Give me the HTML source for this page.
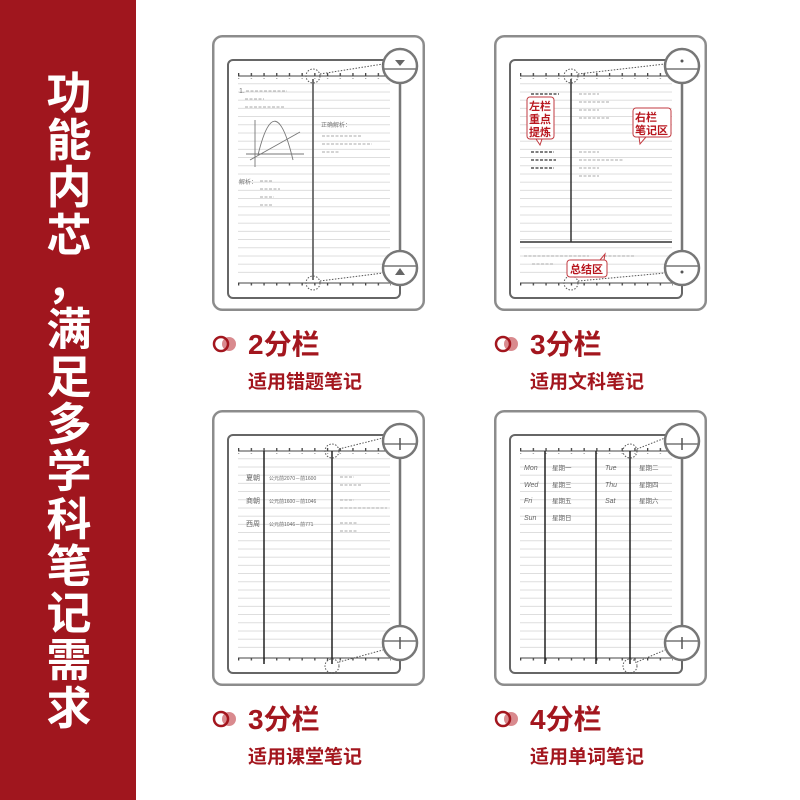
<!DOCTYPE html>
<html><head><meta charset="utf-8"><style>
html,body{margin:0;padding:0;background:#fff}
svg{display:block}
.t{font-family:"Liberation Sans","Noto Sans CJK SC",sans-serif}
</style></head><body>
<svg width="800" height="800" viewBox="0 0 800 800" xmlns="http://www.w3.org/2000/svg">
<defs>
<pattern id="rules" x="0" y="0" width="10" height="8.2" patternUnits="userSpaceOnUse">
<rect x="0" y="7.4" width="10" height="0.8" fill="#d6d6d6"/>
</pattern>
<pattern id="ticks" x="26" y="0" width="12.7" height="6" patternUnits="userSpaceOnUse">
<rect x="0" y="1.5" width="1.3" height="3" fill="#444"/>
</pattern>
<g id="frame">
<rect x="1.25" y="1.25" width="210.5" height="273.5" rx="9" fill="#fff" stroke="#8c8c8c" stroke-width="2.5"/>
<rect x="16" y="25" width="172" height="238" rx="5" fill="#fff" stroke="#666" stroke-width="2"/>
<rect x="26" y="48" width="152" height="196" fill="url(#rules)"/>
<line x1="26" y1="41" x2="178" y2="41" stroke="#444" stroke-width="1"/>
<rect x="26" y="38" width="153" height="6" fill="url(#ticks)"/>
<line x1="26" y1="248" x2="178" y2="248" stroke="#444" stroke-width="1"/>
<rect x="26" y="245" width="153" height="6" fill="url(#ticks)"/>
<line x1="188" y1="48" x2="188" y2="216" stroke="#777" stroke-width="2.5"/>
<circle cx="188" cy="31" r="17" fill="#fff" stroke="#777" stroke-width="2.5"/>
<line x1="171" y1="34" x2="205" y2="34" stroke="#777" stroke-width="1.5"/>
<circle cx="188" cy="233" r="17" fill="#fff" stroke="#777" stroke-width="2.5"/>
<line x1="171" y1="231" x2="205" y2="231" stroke="#777" stroke-width="1.5"/>
</g>
</defs>

<rect x="0" y="0" width="136" height="800" fill="#a0161e"/>
<g class="t" fill="#fff" font-size="45" font-weight="bold" text-anchor="middle">
<text x="69" y="109">功</text>
<text x="69" y="156">能</text>
<text x="69" y="203">内</text>
<text x="69" y="251">芯</text>
<text x="69" y="298">，</text>
<text x="69" y="345">满</text>
<text x="69" y="393">足</text>
<text x="69" y="440">多</text>
<text x="69" y="487">学</text>
<text x="69" y="535">科</text>
<text x="69" y="582">笔</text>
<text x="69" y="629">记</text>
<text x="69" y="676">需</text>
<text x="69" y="724">求</text>
</g>

<!-- Panel 1 -->
<g transform="translate(212,35)">
<use href="#frame"/>
<line x1="101" y1="44" x2="101" y2="245" stroke="#666" stroke-width="1.8"/>
<circle cx="101" cy="41" r="7" fill="none" stroke="#555" stroke-dasharray="1.5 1.5"/>
<line x1="108" y1="39" x2="171" y2="29" stroke="#555" stroke-dasharray="1.5 1.5"/>
<circle cx="101" cy="248" r="7" fill="none" stroke="#555" stroke-dasharray="1.5 1.5"/>
<line x1="108" y1="246" x2="171" y2="238" stroke="#555" stroke-dasharray="1.5 1.5"/>
<path d="M183 25 L193 25 L188 31 Z" fill="#666"/>
<path d="M183 240 L193 240 L188 233 Z" fill="#666"/>
<g stroke="#aaa" stroke-width="1" stroke-dasharray="3 1.5">
<line x1="34" y1="56" x2="75" y2="56"/><line x1="33" y1="64" x2="52" y2="64"/><line x1="33" y1="72" x2="72" y2="72"/>
<line x1="110" y1="101" x2="150" y2="101"/><line x1="110" y1="109" x2="160" y2="109"/><line x1="110" y1="117" x2="128" y2="117"/>
<line x1="48" y1="146" x2="60" y2="146"/><line x1="48" y1="154" x2="68" y2="154"/><line x1="48" y1="162" x2="62" y2="162"/><line x1="48" y1="170" x2="60" y2="170"/>
</g>
<text x="27" y="58" font-size="7" fill="#777" class="t">1.</text>
<text x="109" y="92" font-size="6" fill="#777" class="t">正确解析：</text>
<text x="27" y="149" font-size="6" fill="#777" class="t">解析：</text>
<g stroke="#777" stroke-width="0.9" fill="none">
<line x1="43" y1="85" x2="43" y2="132"/><line x1="34" y1="119" x2="92" y2="119"/>
<path d="M46 120 Q63 50 81 125"/><line x1="38" y1="125" x2="88" y2="97"/>
</g>
</g>

<!-- Panel 2 -->
<g transform="translate(494,35)">
<use href="#frame"/>
<line x1="77" y1="44" x2="77" y2="207" stroke="#333" stroke-width="1.5"/>
<line x1="26" y1="207" x2="178" y2="207" stroke="#333" stroke-width="1.5"/>
<circle cx="77" cy="41" r="7" fill="none" stroke="#555" stroke-dasharray="1.5 1.5"/>
<line x1="84" y1="39" x2="171" y2="29" stroke="#555" stroke-dasharray="1.5 1.5"/>
<circle cx="77" cy="248" r="7" fill="none" stroke="#555" stroke-dasharray="1.5 1.5"/>
<line x1="84" y1="246" x2="171" y2="238" stroke="#555" stroke-dasharray="1.5 1.5"/>
<circle cx="188" cy="26" r="1.5" fill="#555"/><circle cx="188" cy="237" r="1.5" fill="#555"/>
<g stroke="#333" stroke-width="1.2" stroke-dasharray="3 1.5">
<line x1="37" y1="59" x2="65" y2="59"/><line x1="37" y1="117" x2="60" y2="117"/><line x1="37" y1="125" x2="62" y2="125"/><line x1="37" y1="133" x2="60" y2="133"/>
</g>
<g stroke="#aaa" stroke-width="1" stroke-dasharray="3 1.5">
<line x1="85" y1="59" x2="105" y2="59"/><line x1="85" y1="67" x2="115" y2="67"/><line x1="85" y1="75" x2="105" y2="75"/><line x1="85" y1="83" x2="115" y2="83"/>
<line x1="85" y1="117" x2="105" y2="117"/><line x1="85" y1="125" x2="130" y2="125"/><line x1="85" y1="133" x2="105" y2="133"/><line x1="85" y1="141" x2="105" y2="141"/>
<line x1="30" y1="221" x2="95" y2="221"/><line x1="110" y1="221" x2="140" y2="221"/><line x1="38" y1="229" x2="60" y2="229"/>
</g>
<g class="t" font-weight="bold" font-size="11" fill="#b8161e">
<rect x="33" y="62" width="27" height="42" rx="3" fill="#fff" stroke="#c23a40"/>
<path d="M42 104 L46 110 L48 104 Z" fill="#fff" stroke="#c23a40"/>
<text x="35" y="75">左栏</text><text x="35" y="88">重点</text><text x="35" y="101">提炼</text>
<rect x="139" y="73" width="38" height="29" rx="3" fill="#fff" stroke="#c23a40"/>
<path d="M145 102 L146 109 L152 102 Z" fill="#fff" stroke="#c23a40"/>
<text x="141" y="86">右栏</text><text x="141" y="99">笔记区</text>
<rect x="73" y="225" width="40" height="17" rx="3" fill="#fff" stroke="#c23a40"/>
<path d="M106 225 L111 219 L110 225 Z" fill="#fff" stroke="#c23a40"/>
<text x="76" y="238">总结区</text>
</g>
</g>

<!-- Panel 3 -->
<g transform="translate(212,410)">
<use href="#frame"/>
<line x1="52" y1="41" x2="52" y2="254" stroke="#222" stroke-width="1.5"/>
<line x1="120" y1="41" x2="120" y2="254" stroke="#222" stroke-width="1.5"/>
<circle cx="120" cy="41" r="7" fill="none" stroke="#555" stroke-dasharray="1.5 1.5"/>
<line x1="127" y1="39" x2="171" y2="28" stroke="#555" stroke-dasharray="1.5 1.5"/>
<circle cx="120" cy="256" r="7" fill="none" stroke="#555" stroke-dasharray="1.5 1.5"/>
<line x1="127" y1="252" x2="171" y2="240" stroke="#555" stroke-dasharray="1.5 1.5"/>
<line x1="188" y1="28" x2="188" y2="40" stroke="#555" stroke-width="1.5"/>
<line x1="188" y1="227" x2="188" y2="239" stroke="#555" stroke-width="1.5"/>
<g class="t" font-size="7" fill="#666">
<text x="34" y="70">夏朝</text><text x="57" y="70" font-size="5">公元前2070－前1600</text>
<text x="34" y="93">商朝</text><text x="57" y="93" font-size="5">公元前1600－前1046</text>
<text x="34" y="116">西周</text><text x="57" y="116" font-size="5">公元前1046－前771</text>
</g>
<g stroke="#aaa" stroke-width="1" stroke-dasharray="3 1.5">
<line x1="128" y1="67" x2="142" y2="67"/><line x1="128" y1="75" x2="150" y2="75"/>
<line x1="128" y1="90" x2="142" y2="90"/><line x1="128" y1="98" x2="175" y2="98"/>
<line x1="128" y1="113" x2="145" y2="113"/><line x1="128" y1="121" x2="145" y2="121"/>
</g>
</g>

<!-- Panel 4 -->
<g transform="translate(494,410)">
<use href="#frame"/>
<line x1="51" y1="41" x2="51" y2="254" stroke="#222" stroke-width="1.5"/>
<line x1="102" y1="41" x2="102" y2="254" stroke="#222" stroke-width="1.5"/>
<line x1="136" y1="41" x2="136" y2="254" stroke="#222" stroke-width="1.5"/>
<circle cx="136" cy="41" r="7" fill="none" stroke="#555" stroke-dasharray="1.5 1.5"/>
<line x1="143" y1="39" x2="171" y2="28" stroke="#555" stroke-dasharray="1.5 1.5"/>
<circle cx="136" cy="256" r="7" fill="none" stroke="#555" stroke-dasharray="1.5 1.5"/>
<line x1="143" y1="252" x2="171" y2="240" stroke="#555" stroke-dasharray="1.5 1.5"/>
<line x1="188" y1="28" x2="188" y2="40" stroke="#555" stroke-width="1.5"/>
<line x1="188" y1="227" x2="188" y2="239" stroke="#555" stroke-width="1.5"/>
<g class="t" font-size="7" fill="#666" font-style="italic">
<text x="30" y="60">Mon</text><text x="30" y="77">Wed</text><text x="30" y="93">Fri</text><text x="30" y="110">Sun</text>
<text x="111" y="60">Tue</text><text x="111" y="77">Thu</text><text x="111" y="93">Sat</text>
</g>
<g class="t" font-size="6.5" fill="#666">
<text x="58" y="60">星期一</text><text x="58" y="77">星期三</text><text x="58" y="93">星期五</text><text x="58" y="110">星期日</text>
<text x="145" y="60">星期二</text><text x="145" y="77">星期四</text><text x="145" y="93">星期六</text>
</g>
</g>

<!-- labels -->
<g class="t" fill="#a3161e" font-weight="bold">
<g>
<circle cx="229" cy="344" r="7" fill="#d98a8e"/><circle cx="221" cy="344" r="7" fill="none" stroke="#a3161e" stroke-width="2.5"/>
<text x="248" y="354" font-size="28">2分栏</text>
<text x="248" y="388" font-size="19">适用错题笔记</text>
</g>
<g>
<circle cx="511" cy="344" r="7" fill="#d98a8e"/><circle cx="503" cy="344" r="7" fill="none" stroke="#a3161e" stroke-width="2.5"/>
<text x="530" y="354" font-size="28">3分栏</text>
<text x="530" y="388" font-size="19">适用文科笔记</text>
</g>
<g>
<circle cx="229" cy="719" r="7" fill="#d98a8e"/><circle cx="221" cy="719" r="7" fill="none" stroke="#a3161e" stroke-width="2.5"/>
<text x="248" y="729" font-size="28">3分栏</text>
<text x="248" y="763" font-size="19">适用课堂笔记</text>
</g>
<g>
<circle cx="511" cy="719" r="7" fill="#d98a8e"/><circle cx="503" cy="719" r="7" fill="none" stroke="#a3161e" stroke-width="2.5"/>
<text x="530" y="729" font-size="28">4分栏</text>
<text x="530" y="763" font-size="19">适用单词笔记</text>
</g>
</g>
</svg>
</body></html>
